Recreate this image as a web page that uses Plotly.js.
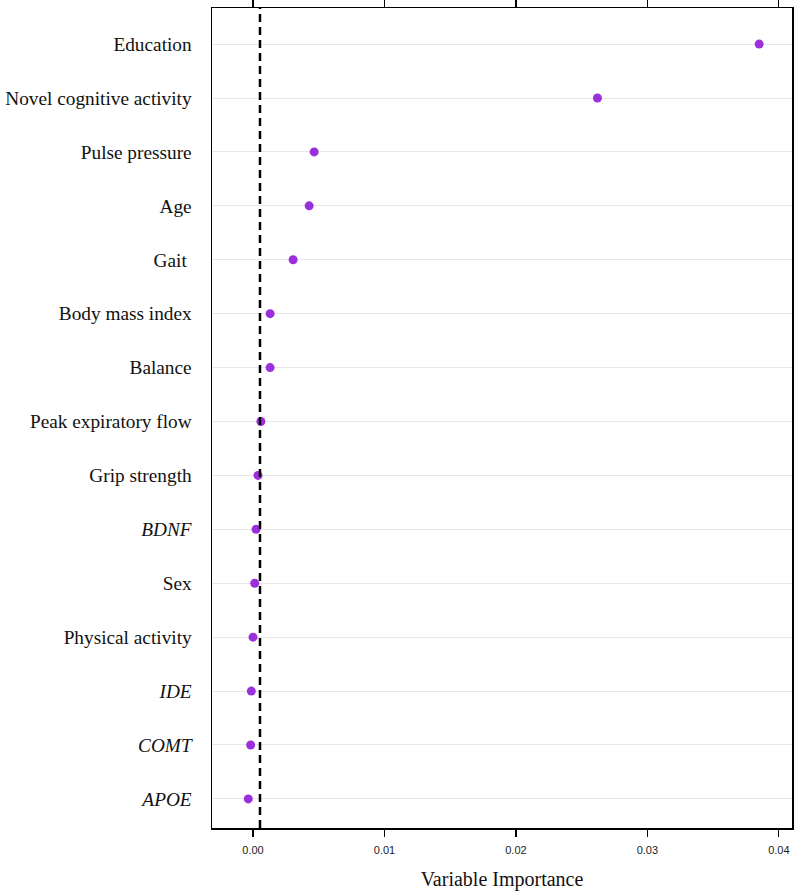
<!DOCTYPE html>
<html>
<head>
<meta charset="utf-8">
<script src="https://cdn.plot.ly/plotly-3.0.1.min.js"></script>
<style>
  html, body { margin: 0; padding: 0; background: #fff; }
  #chart { width: 800px; height: 891px; }
</style>
</head>
<body>
<div id="chart"></div>
<script>
// Variable importance, top to bottom
const variables = [
  "Education", "Novel cognitive activity", "Pulse pressure", "Age", "Gait",
  "Body mass index", "Balance", "Peak expiratory flow", "Grip strength",
  "BDNF", "Sex", "Physical activity", "IDE", "COMT", "APOE"
];
const labels = [
  "Education", "Novel cognitive activity", "Pulse pressure", "Age", "Gait ",
  "Body mass index", "Balance", "Peak expiratory flow", "Grip strength",
  "<i>BDNF</i>", "Sex", "Physical activity", "<i>IDE</i>", "<i>COMT</i>", "<i>APOE</i>"
];
const importance = [
  0.0385, 0.0262, 0.00465, 0.00427, 0.00305,
  0.0013, 0.0013, 0.0006, 0.00038,
  0.00023, 0.00013, 0.0, -0.00013, -0.00018, -0.00036
];
const cutoff = 0.00053;
const xTicks = [0, 0.01, 0.02, 0.03, 0.04];
const xTickText = ["0.00", "0.01", "0.02", "0.03", "0.04"];

const points = {
  type: "scatter",
  mode: "markers",
  x: importance,
  y: variables,
  marker: { color: "#9b2fdc", size: 9 },
  hoverinfo: "x+y",
};

const layout = {
  width: 800,
  height: 891,
  margin: { t: 8, r: 8, b: 63, l: 212 },
  paper_bgcolor: "#ffffff",
  plot_bgcolor: "#ffffff",
  showlegend: false,
  xaxis: {
    range: [-0.00312, 0.0410],
    tickvals: xTicks,
    ticktext: xTickText,
    ticks: "outside",
    ticklen: 7,
    tickwidth: 1.2,
    tickcolor: "#000",
    ticklabelstandoff: 4,
    showline: true,
    linecolor: "#000",
    linewidth: 1.5,
    mirror: "ticks",
    showgrid: false,
    zeroline: false,
    tickfont: { family: "Liberation Sans, Arial", size: 11, color: "#222" },
    title: {
      text: "Variable Importance",
      font: { family: "Liberation Serif, Times New Roman", size: 20, color: "#111" },
      standoff: 18,
    },
  },
  yaxis: {
    type: "category",
    categoryorder: "array",
    categoryarray: variables,
    tickvals: variables,
    ticktext: labels,
    range: [14.54, -0.67],
    ticks: "",
    ticklabelstandoff: 15,
    showline: true,
    linecolor: "#000",
    linewidth: 1.5,
    mirror: true,
    showgrid: true,
    gridcolor: "#e6e6e6",
    gridwidth: 1,
    zeroline: false,
    tickfont: { family: "Liberation Serif, Times New Roman", size: 19.3, color: "#111" },
  },
  shapes: [
    {
      type: "line",
      xref: "x",
      yref: "paper",
      x0: cutoff,
      x1: cutoff,
      y0: 0,
      y1: 1,
      line: { color: "#000", width: 2.5, dash: "8px,5px" },
    },
  ],
};

Plotly.newPlot("chart", [points], layout, { displayModeBar: false, staticPlot: true });
</script>
</body>
</html>
